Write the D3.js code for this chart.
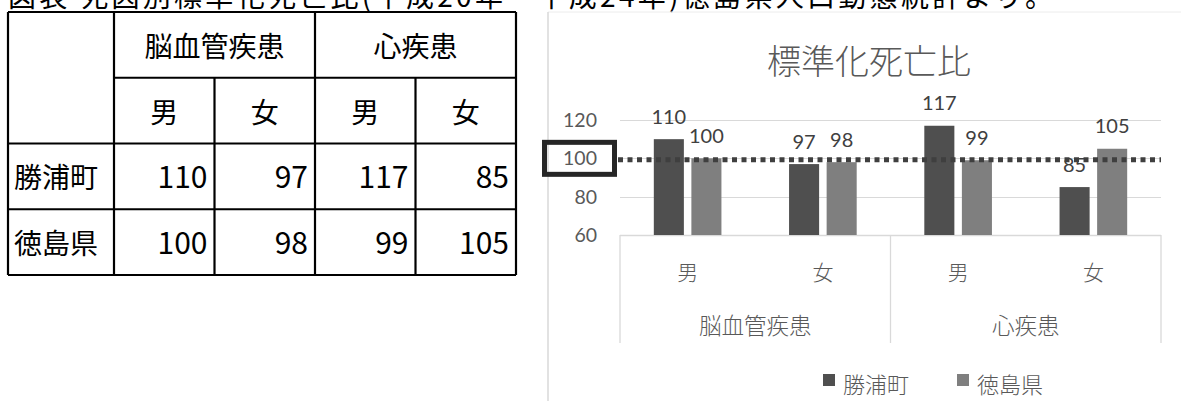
<!DOCTYPE html>
<html>
<head>
<meta charset="utf-8">
<script src="https://cdn.jsdelivr.net/npm/d3@7"></script>
<style>
  html, body { margin: 0; padding: 0; background: #fff; overflow: hidden; }
  svg { display: block; }
</style>
</head>
<body>
<script>
// ---- data ----
const groups = ["脳血管疾患", "心疾患"];
const sexes = ["男", "女"];
const seriesNames = ["勝浦町", "徳島県"];
const katsuuraValues = [110, 97, 117, 85];
const tokushimaValues = [100, 98, 99, 105];
const yTickValues = [60, 80, 100, 120];
const referenceValue = 100;
const captionText = "図表 死因別標準化死亡比(平成20年～平成24年)徳島県人口動態統計より。";
const chartTitle = "標準化死亡比";

// ---- setup ----
const W = 1181, H = 401;
const CJK = "'Noto Sans CJK JP', 'Noto Sans', sans-serif";
const NUM = "Lato, 'Noto Sans', sans-serif";
const seriesValues = [katsuuraValues, tokushimaValues];
const seriesColors = ["#4f4f4f", "#7f7f7f"];
const cats = groups.flatMap(g => sexes.map(s => ({ group: g, sex: s })));

const svg = d3.select("body").append("svg")
  .attr("width", W).attr("height", H)
  .attr("viewBox", `0 0 ${W} ${H}`);

// caption line across the top (partly above the page edge)
svg.append("text")
  .attr("x", 8).attr("y", 7)
  .attr("font-family", CJK).attr("font-size", 28).attr("fill", "#000")
  .attr("textLength", 1045).attr("lengthAdjust", "spacing")
  .text(captionText);

// ---- table ----
const tx = d3.scaleLinear().domain([1, 5]).range([114, 516]);
const ty = d3.scaleLinear().domain([0, 4]).range([12, 275]);
const tLeft = 8;
const tbl = svg.append("g").attr("stroke", "#000").attr("stroke-width", 2.2);
const segs = [
  // horizontal rules
  [tLeft, ty(0), tx(5), ty(0)],
  [tx(1), ty(1), tx(5), ty(1)],
  [tLeft, ty(2), tx(5), ty(2)],
  [tLeft, ty(3), tx(5), ty(3)],
  [tLeft, ty(4), tx(5), ty(4)],
  // vertical rules
  [tLeft, ty(0), tLeft, ty(4)],
  [tx(1), ty(0), tx(1), ty(4)],
  [tx(2), ty(1), tx(2), ty(4)],
  [tx(3), ty(0), tx(3), ty(4)],
  [tx(4), ty(1), tx(4), ty(4)],
  [tx(5), ty(0), tx(5), ty(4)]
];
tbl.selectAll("line").data(segs).join("line")
  .attr("x1", d => d[0]).attr("y1", d => d[1])
  .attr("x2", d => d[2]).attr("y2", d => d[3]);

const ttext = svg.append("g").attr("fill", "#000");
// group headers
groups.forEach((g, gi) => {
  ttext.append("text")
    .attr("x", (tx(1 + gi * 2) + tx(3 + gi * 2)) / 2)
    .attr("y", (ty(0) + ty(1)) / 2)
    .attr("text-anchor", "middle").attr("dominant-baseline", "central")
    .attr("font-family", CJK).attr("font-size", 28)
    .text(g);
});
// sex headers
cats.forEach((c, i) => {
  ttext.append("text")
    .attr("x", (tx(i + 1) + tx(i + 2)) / 2)
    .attr("y", (ty(1) + ty(2)) / 2)
    .attr("text-anchor", "middle").attr("dominant-baseline", "central")
    .attr("font-family", CJK).attr("font-size", 28)
    .text(c.sex);
});
// rows
seriesNames.forEach((name, si) => {
  const top = ty(2 + si), bot = ty(3 + si);
  ttext.append("text")
    .attr("x", tLeft + 6).attr("y", (top + bot) / 2)
    .attr("dominant-baseline", "central")
    .attr("font-family", CJK).attr("font-size", 28)
    .text(name);
  seriesValues[si].forEach((v, i) => {
    ttext.append("text")
      .attr("x", tx(i + 2) - 7).attr("y", bot - 21)
      .attr("text-anchor", "end")
      .attr("font-family", CJK).attr("font-size", 30)
      .text(v);
  });
});

// ---- chart ----
const frame = svg.append("g");
frame.append("line").attr("x1", 548).attr("y1", 12).attr("x2", W).attr("y2", 12)
  .attr("stroke", "#ececec").attr("stroke-width", 1);
frame.append("line").attr("x1", 548).attr("y1", 12).attr("x2", 548).attr("y2", H)
  .attr("stroke", "#d9d9d9").attr("stroke-width", 1.5);

svg.append("text")
  .attr("x", 869).attr("y", 59)
  .attr("text-anchor", "middle").attr("dominant-baseline", "central")
  .attr("font-family", CJK).attr("font-weight", 300).attr("font-size", 34)
  .attr("fill", "#595959")
  .text(chartTitle);

const x0 = d3.scaleBand().domain(d3.range(cats.length)).range([620, 1161]);
const bw = x0.bandwidth();
const x1 = d3.scaleBand().domain(d3.range(seriesNames.length))
  .range([bw * 0.25, bw * 0.75]).paddingInner(0.2);
const y = d3.scaleLinear().domain([60, 120]).range([235, 120]);

// gridlines
svg.append("g").selectAll("line").data(yTickValues.filter(t => t > y.domain()[0])).join("line")
  .attr("x1", x0.range()[0]).attr("x2", x0.range()[1])
  .attr("y1", d => Math.round(y(d)) + 0.5).attr("y2", d => Math.round(y(d)) + 0.5)
  .attr("stroke", "#d9d9d9").attr("stroke-width", 1);

// y tick labels
svg.append("g").selectAll("text").data(yTickValues).join("text")
  .attr("x", 597).attr("y", d => y(d)).attr("dy", "0.36em")
  .attr("text-anchor", "end")
  .attr("font-family", NUM).attr("font-size", 19.5).attr("fill", "#595959")
  .text(d => d);

// category axis box
const axisBottom = 343;
const ax = svg.append("g").attr("stroke", "#d9d9d9").attr("stroke-width", 1.3).attr("fill", "none");
ax.append("line").attr("x1", x0.range()[0]).attr("x2", x0.range()[1])
  .attr("y1", y(60) + 0.5).attr("y2", y(60) + 0.5);
const groupEdges = [0, 2, 4].map(i => i < cats.length ? x0(i) : x0.range()[1]);
ax.selectAll("line.sep").data(groupEdges).join("line").attr("class", "sep")
  .attr("x1", d => d).attr("x2", d => d)
  .attr("y1", y(60)).attr("y2", axisBottom);

// sex labels
svg.append("g").selectAll("text").data(cats).join("text")
  .attr("x", (d, i) => x0(i) + bw / 2).attr("y", 271)
  .attr("text-anchor", "middle").attr("dominant-baseline", "central")
  .attr("font-family", CJK).attr("font-weight", 300).attr("font-size", 21)
  .attr("fill", "#595959")
  .text(d => d.sex);

// group labels
svg.append("g").selectAll("text").data(groups).join("text")
  .attr("x", (d, gi) => (groupEdges[gi] + groupEdges[gi + 1]) / 2).attr("y", 324)
  .attr("text-anchor", "middle").attr("dominant-baseline", "central")
  .attr("font-family", CJK).attr("font-weight", 300).attr("font-size", 22.5)
  .attr("fill", "#595959")
  .text(d => d);

// bars
const barData = seriesValues.flatMap((vals, si) => vals.map((v, ci) => ({ si, ci, v })));
svg.append("g").selectAll("rect").data(barData).join("rect")
  .attr("x", d => x0(d.ci) + x1(d.si))
  .attr("width", x1.bandwidth())
  .attr("y", d => y(d.v))
  .attr("height", d => y(60) - y(d.v))
  .attr("fill", d => seriesColors[d.si]);

// value labels
svg.append("g").selectAll("text").data(barData).join("text")
  .attr("x", d => x0(d.ci) + x1(d.si) + x1.bandwidth() / 2)
  .attr("y", d => y(d.v) - 15.5)
  .attr("text-anchor", "middle")
  .attr("font-family", NUM).attr("font-size", 20).attr("fill", "#404040")
  .text(d => d.v);

// reference line at 100
const boxRight = 617;
svg.append("line")
  .attr("x1", boxRight + 1).attr("x2", x0.range()[1])
  .attr("y1", y(referenceValue) + 1.5).attr("y2", y(referenceValue) + 1.5)
  .attr("stroke", "#3f3f3f").attr("stroke-width", 5)
  .attr("stroke-dasharray", "5 4.5");

// box around the 100 tick label
svg.append("rect")
  .attr("x", 544.5).attr("y", y(referenceValue) - 16)
  .attr("width", 70).attr("height", 32)
  .attr("fill", "none").attr("stroke", "#262626").attr("stroke-width", 5);

// legend
const legendX = [823, 957];
const lg = svg.append("g").selectAll("g").data(seriesNames).join("g")
  .attr("transform", (d, i) => `translate(${legendX[i]},383)`);
lg.append("rect").attr("x", 0).attr("y", -9).attr("width", 12).attr("height", 12)
  .attr("fill", (d, i) => seriesColors[i]);
lg.append("text").attr("x", 20).attr("y", 0).attr("dominant-baseline", "central")
  .attr("font-family", CJK).attr("font-weight", 300).attr("font-size", 22)
  .attr("fill", "#595959")
  .text(d => d);
</script>
</body>
</html>
